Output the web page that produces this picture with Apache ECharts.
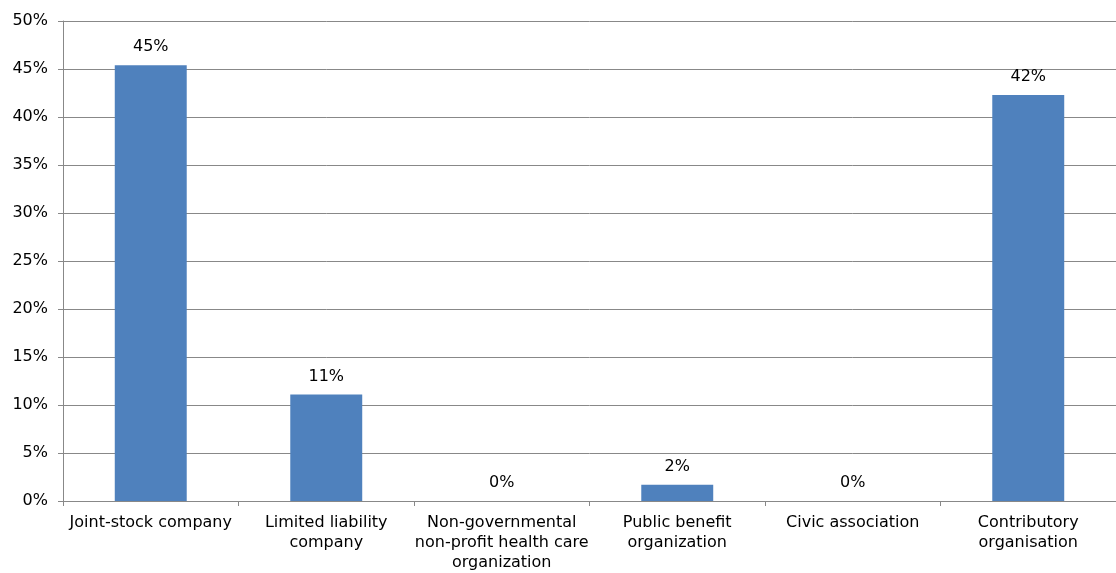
<!DOCTYPE html>
<html>
<head>
<meta charset="utf-8">
<script src="https://cdn.jsdelivr.net/npm/echarts@6/dist/echarts.min.js"></script>
<style>html,body{margin:0;padding:0;background:#fff}#c{width:1116px;height:573px}</style>
</head>
<body>
<div id="c"></div>
<script>
const categories = [
  'Joint-stock company',
  'Limited liability\ncompany',
  'Non-governmental\nnon-profit health care\norganization',
  'Public benefit\norganization',
  'Civic association',
  'Contributory\norganisation'
];
const values = [45.4, 11.1, 0, 1.7, 0, 42.3];
const yTicks = { min: 0, max: 50, interval: 5 };

const FONT = '"DejaVu Sans", Verdana, sans-serif';
const FS = 16;
const chart = echarts.init(document.getElementById('c'), null, { renderer: 'canvas' });
chart.setOption({
  animation: false,
  backgroundColor: '#fff',
  grid: { left: 63, right: 0, top: 21, bottom: 68, containLabel: false },
  xAxis: {
    type: 'category',
    data: categories,
    axisLine: { show: true, lineStyle: { color: '#888', width: 1 } },
    axisTick: { show: true, length: 5, alignWithLabel: false, lineStyle: { color: '#888' } },
    axisLabel: { interval: 0, color: '#000', fontFamily: FONT, fontSize: FS, lineHeight: 20, margin: 12 }
  },
  yAxis: {
    type: 'value',
    min: yTicks.min, max: yTicks.max, interval: yTicks.interval,
    axisLine: { show: true, lineStyle: { color: '#888', width: 1 } },
    axisTick: { show: true, length: 5, lineStyle: { color: '#888' } },
    splitLine: { show: true, lineStyle: { color: '#888', width: 1 } },
    axisLabel: { formatter: '{value}%', color: '#000', fontFamily: FONT, fontSize: FS, margin: 15 }
  },
  series: [{
    type: 'bar',
    data: values,
    barWidth: '41%',
    itemStyle: { color: '#4F81BD' },
    label: {
      show: true, position: 'top', distance: 10,
      color: '#000', fontFamily: FONT, fontSize: FS,
      formatter: p => Math.round(p.value) + '%'
    }
  }]
});
</script>
</body>
</html>
